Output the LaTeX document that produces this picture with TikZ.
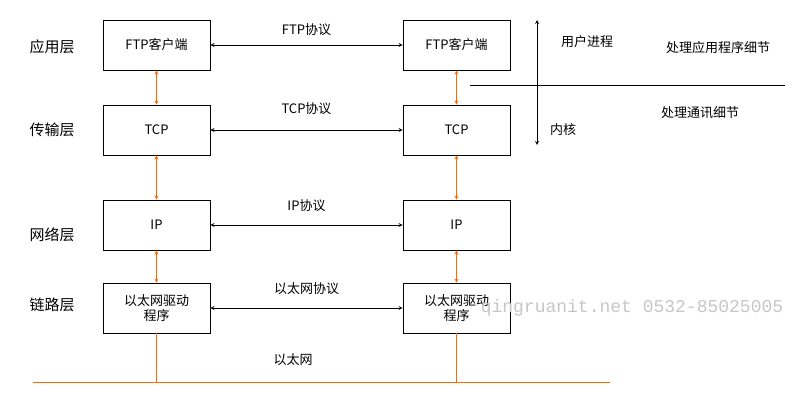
\documentclass[tikz,border=0pt]{standalone}
\usepackage{fontspec}
\setmainfont{Noto Sans CJK SC}
\newfontfamily\wmfont{Liberation Mono}
\begin{document}
\begin{tikzpicture}[x=1pt,y=-1pt,
  box/.style={draw,line width=0.8pt,minimum width=107pt,minimum height=50pt,inner sep=0pt,align=center,font=\fontsize{13}{15}\selectfont},
  lay/.style={font=\fontsize{15}{17}\selectfont},
  lbl/.style={font=\fontsize{13}{15}\selectfont},
  oa/.style={draw=orange!80!red,line width=0.8pt,<->,>=stealth},
  ba/.style={draw,line width=0.8pt,<->,>=stealth},
  ol/.style={draw=orange!80!red,line width=0.9pt}]
\useasboundingbox (0,0) rectangle (798,404);
\node[box] (f1) at (156.5,45) {FTP客户端};
\node[box] (f2) at (456.5,45) {FTP客户端};
\node[box] (t1) at (156.5,130) {TCP};
\node[box] (t2) at (456.5,130) {TCP};
\node[box] (i1) at (156.5,225) {IP};
\node[box] (i2) at (456.5,225) {IP};
\node[box] (e1) at (156.5,308) {以太网驱动\\程序};
\node[box] (e2) at (456.5,308) {以太网驱动\\程序};
\node[lay] (l1) at (52,47) {应用层};
\node[lay] (l2) at (52,130) {传输层};
\node[lay] (l3) at (52,235) {网络层};
\node[lay] (l4) at (52,305) {链路层};
\draw[ba] (f1.east) -- node[lbl,above=6pt] {FTP协议} (f2.west);
\draw[ba] (t1.east) -- node[lbl,above=12pt] {TCP协议} (t2.west);
\draw[ba] (i1.east) -- node[lbl,above=10pt] {IP协议} (i2.west);
\draw[ba] (e1.east) -- node[lbl,above=10pt] {以太网协议} (e2.west);
\foreach \a/\b in {f1/t1,t1/i1,i1/e1,f2/t2,t2/i2,i2/e2}{\draw[oa] (\a.south) -- (\b.north);}
\coordinate (g1) at (33,382); \coordinate (g2) at (610,382);
\draw[ol] (g1) -- (g2);
\draw[ol] (e1.south) -- (e1.south |- g1);
\draw[ol] (e2.south) -- (e2.south |- g1);
\node[lbl] (eth) at (293,360) {以太网};
\coordinate (v1) at (537,20); \coordinate (v2) at (537,145);
\draw[ba] (v1) -- (v2);
\coordinate (h1) at (470,85); \coordinate (h2) at (785,85);
\draw[line width=0.6pt] (h1) -- (h2);
\node[lbl] (up) at (587,42) {用户进程};
\node[lbl] (kn) at (563,130) {内核};
\node[lbl] (pa) at (718,48) {处理应用程序细节};
\node[lbl] (pc) at (700,113) {处理通讯细节};
\node[font=\wmfont\fontsize{18}{20}\selectfont,text=gray!45] (wm) at (632,308) {qingruanit.net 0532-85025005};
\end{tikzpicture}
\end{document}
